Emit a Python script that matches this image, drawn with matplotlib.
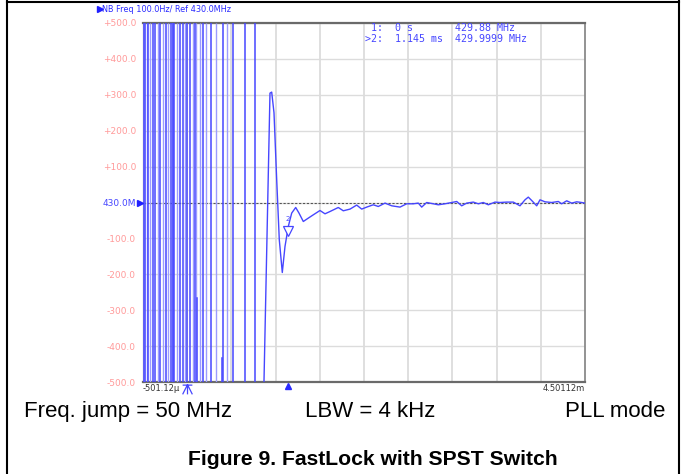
import numpy as np
import matplotlib
matplotlib.use("Agg")
import matplotlib.pyplot as plt
from matplotlib.lines import Line2D
from matplotlib.path import Path
import matplotlib.transforms as mtransforms

# ---------------- data ----------------
x_start = -0.50112   # ms
x_end = 4.50112      # ms
y_ticks = [500, 400, 300, 200, 100, 0, -100, -200, -300, -400, -500]
y_tick_labels = ["+500.0", "+400.0", "+300.0", "+200.0", "+100.0", "430.0M",
                 "-100.0", "-200.0", "-300.0", "-400.0", "-500.0"]
x_tick_labels = ["-501.12\u00b5", "4.50112m"]

# full-span frequency wraps before lock (time in ms)
wraps_strong = [-0.4955, -0.4785, -0.4411, -0.3913, -0.3653, -0.3087, -0.2408,
                -0.1876, -0.1582, -0.1469, -0.0824, -0.0450, -0.0002, 0.0304,
                0.0870, 0.1745, 0.2646, 0.3999, 0.5208, 0.6532, 0.7664]
wraps_light = [-0.4864, -0.4593, -0.4219, -0.3348, -0.2782, -0.2148, -0.1707,
               -0.1130, -0.0292, 0.0610, 0.1040, 0.1436, 0.2115, 0.3246,
               0.4457]
# partial wrap segments: time, value from, value to
partial_t = [0.112, 0.3894]
partial_from = [-265, -432]
partial_to = [-500, -500]

# settling trace (time ms, offset Hz from 430.0 MHz)
trace_t = [0.868, 0.936, 0.9554, 0.9814, 1.012, 1.0413, 1.0753, 1.1058, 1.1432,
           1.1817, 1.227, 1.2643, 1.3130, 1.3696, 1.4262, 1.5020, 1.5586,
           1.6152, 1.7091, 1.7657, 1.8415, 1.9174, 1.9740, 2.0306, 2.1053,
           2.1619, 2.2377, 2.3135, 2.4075, 2.4833, 2.5580, 2.6146, 2.6530,
           2.7096, 2.7843, 2.8409, 2.9167, 2.9925, 3.0491, 3.1057, 3.1623,
           3.2370, 3.2936, 3.3501, 3.4067, 3.4825, 3.5391, 3.6150, 3.6897,
           3.7655, 3.8221, 3.8594, 3.8979, 3.9545, 3.9918, 4.0484, 4.1242,
           4.1989, 4.2374, 4.2940, 4.3506, 4.4072, 4.4638, 4.5011]
trace_v = [-500, 304.7, 307.5, 249.9, 63.2, -103.9, -195, -122.6, -66.9,
           -29.5, -13.9, -29.5, -52.9, -43.5, -34.3, -22.3, -31.5,
           -25.1, -13.9, -23.1, -18.4, -7.2, -18.4, -12.8, -6.4,
           -11.1, -1.7, -9.2, -12.8, -3.6, -3.6, -1.7, -12.8,
           0, -3.6, -6.4, -3.6, 0, 2.8, -9.2, -1.7,
           1.1, -3.6, 0, -6.4, 1.1, 0, 1.1, 1.1,
           -9.2, 7.5, 15.0, 5.6, -9.2, 7.5, 1.9, 0,
           2.8, -3.6, 4.7, -1.7, 1.9, 0, -1.7]

marker1_t = 0.0
marker2_t = 1.145
marker2_v = -100

header = "NB Freq 100.0Hz/ Ref 430.0MHz"
readout_1 = " 1:  0 s       429.88 MHz"
readout_2 = ">2:  1.145 ms  429.9999 MHz"
caption_left = "Freq. jump = 50 MHz"
caption_mid = "LBW = 4 kHz"
caption_right = "PLL mode"
title = "Figure 9. FastLock with SPST Switch"

# ---------------- style ----------------
W, H = 681, 474
BLUE = "#4646ff"
LIGHT = "#9c9cff"
PINK = "#ff9a9a"

fig = plt.figure(figsize=(W / 100, H / 100), dpi=100)
fig.patch.set_facecolor("white")

def fx(px):
    return px / W

def fy(py):
    return 1 - py / H

ax = fig.add_axes([fx(143), fy(382), fx(585) - fx(143), fy(23) - fy(382)])
ax.set_xlim(x_start, x_end)
ax.set_ylim(-500, 500)

# grid
ax.set_xticks(np.linspace(x_start, x_end, 11), minor=True)
ax.set_xticks([x_start, x_end])
ax.set_xticklabels(x_tick_labels, fontsize=6.0, color="#333333")
ax.set_yticks(y_ticks)
ax.set_yticklabels(y_tick_labels, fontsize=6.5)
for lbl, txt in zip(ax.get_yticklabels(), y_tick_labels):
    lbl.set_color(BLUE if txt.endswith("M") else PINK)
xl = ax.get_xticklabels()
xl[0].set_horizontalalignment("left")
xl[1].set_horizontalalignment("right")
ax.tick_params(axis="both", which="both", length=0)
ax.tick_params(axis="y", pad=5)
ax.tick_params(axis="x", pad=1.5)
ax.grid(True, axis="x", which="minor", color="#dcdcdc", lw=1.3)
ax.grid(True, axis="y", which="major", color="#dcdcdc", lw=1.0)
ax.set_axisbelow(True)

for s in ["top", "bottom"]:
    ax.spines[s].set_color("#6a6a6a")
    ax.spines[s].set_linewidth(1.6)
ax.spines["right"].set_color("#8a8a8a")
ax.spines["right"].set_linewidth(1.3)
ax.spines["left"].set_color("#c8c8c8")
ax.spines["left"].set_linewidth(1.0)

# reference line
ax.axhline(0, color="#555555", lw=0.8, ls=(0, (2, 1.5)), zorder=2)

# wraps
ax.vlines(wraps_light, -500, 500, colors=LIGHT, lw=1.0, zorder=3)
ax.vlines(wraps_strong, -500, 500, colors=BLUE, lw=1.1, zorder=4)
for t, a, b in zip(partial_t, partial_from, partial_to):
    ax.plot([t, t], [a, b], color=BLUE, lw=1.1, zorder=4)

# settling trace
ax.plot(trace_t, trace_v, color=BLUE, lw=1.0, zorder=5)

# marker 2 on trace
ax.plot([marker2_t], [marker2_v + 22], marker="v", mfc="white", mec=BLUE,
        ms=6.5, mew=0.9, zorder=6)
ax.text(marker2_t - 0.01, marker2_v + 55, "2", fontsize=5, color=BLUE,
        ha="center", va="center", zorder=6)

blend = mtransforms.blended_transform_factory(ax.transData, ax.transAxes)
blend_y = mtransforms.blended_transform_factory(ax.transAxes, ax.transData)
# marker 2 on x axis
ax.plot([marker2_t], [-0.012], marker="^", color="#2a2aff", ms=5,
        transform=blend, clip_on=False, zorder=7)
# trigger icon at marker 1
trig = Path([(-1, -1), (0, 1), (1, -1), (-1, 0.9), (1, 0.9), (0, 0.9), (0, -1)],
            [Path.MOVETO, Path.LINETO, Path.LINETO, Path.MOVETO, Path.LINETO,
             Path.MOVETO, Path.LINETO])
ax.plot([marker1_t], [-0.019], marker=trig, mfc="none", mec=BLUE, ms=7,
        mew=0.9, transform=blend, clip_on=False, zorder=7)
# ref arrow at 430.0M
ax.plot([-0.006], [0], marker=">", color="#2020ff", ms=4, transform=blend_y,
        clip_on=False, zorder=7)

# header
fig.add_artist(Line2D([fx(99.5)], [fy(9)], marker=">", color="#2020ff", ms=4.5,
                      transform=fig.transFigure))
fig.text(fx(102.5), fy(9), header, fontsize=5.9, color="#2a2aff",
         ha="left", va="center")

# readout
fig.text(fx(365), fy(28), readout_1, fontsize=7.2, color=BLUE,
         family="DejaVu Sans Mono", ha="left", va="center")
fig.text(fx(365), fy(38.5), readout_2, fontsize=7.2, color=BLUE,
         family="DejaVu Sans Mono", ha="left", va="center")

# bottom texts
fig.text(fx(24), fy(417), caption_left, fontsize=16, family="Liberation Sans",
         ha="left", va="baseline", color="black")
fig.text(fx(305), fy(417), caption_mid, fontsize=16, family="Liberation Sans",
         ha="left", va="baseline", color="black")
fig.text(fx(665), fy(417), caption_right, fontsize=16, family="Liberation Sans",
         ha="right", va="baseline", color="black")
fig.text(fx(372.5), fy(465), title, fontsize=15.2, family="Liberation Sans",
         weight="bold", ha="center", va="baseline", color="black")

# outer frame
for xs, ys in [([7, 7], [1, 474]), ([7, 678.5], [1.5, 1.5]), ([678.5, 678.5], [1, 474])]:
    fig.add_artist(Line2D([fx(v) for v in xs], [fy(v) for v in ys],
                          color="black", lw=1.5, transform=fig.transFigure))

fig.savefig("out.png", dpi=100)
